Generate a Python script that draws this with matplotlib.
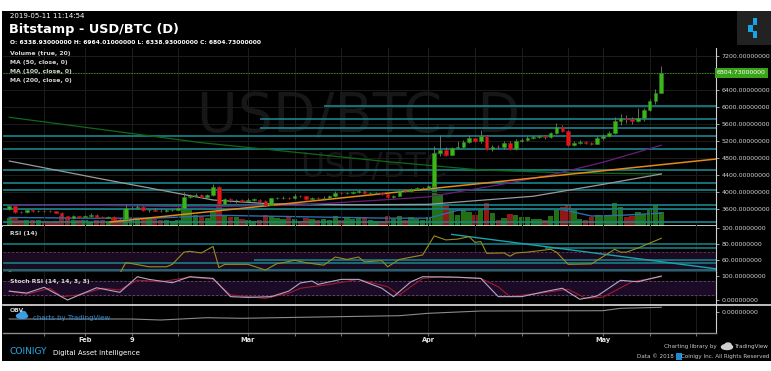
import numpy as np
import pandas as pd
import matplotlib
matplotlib.use('Agg')
import matplotlib.pyplot as plt
from matplotlib.patches import Rectangle, Ellipse
from matplotlib.lines import Line2D
from matplotlib.transforms import blended_transform_factory

W, H = 771, 371

# ---------------- data ----------------
dates = pd.date_range('2019-01-19', '2019-05-11', freq='D')

opens = [3595, 3660, 3530, 3525, 3565, 3545, 3560, 3550, 3545, 3515, 3435, 3385, 3425,
         3410, 3440, 3470, 3405, 3395, 3420, 3365, 3360, 3620, 3625, 3655, 3565, 3575, 3560,
         3550, 3565, 3580, 3615, 3875, 3915, 3935, 3890, 3930, 4110, 3720, 3830, 3800, 3805,
         3795, 3815, 3820, 3790, 3695, 3850, 3860, 3870, 3855, 3915, 3895, 3845, 3865, 3850,
         3870, 3905, 3985, 3970, 3980, 4005, 4025, 3965, 3975, 3985, 3955, 3890, 3910, 4025,
         4020, 4075, 4085,
         4094, 4141, 4910, 4988, 4880, 5028, 5060, 5169, 5264, 5200, 5318, 5012, 5055, 5050,
         5160, 5012, 5200, 5230, 5280, 5290, 5320, 5295, 5380, 5520, 5440, 5105, 5155, 5170,
         5150, 5140,
         5264, 5318, 5395, 5670, 5750, 5710, 5676, 5750, 5930, 6150, 6339]
highs = [3700, 3680, 3560, 3590, 3580, 3585, 3575, 3570, 3560, 3530, 3445, 3450, 3445,
         3470, 3500, 3480, 3425, 3440, 3425, 3390, 3700, 3660, 3690, 3660, 3600, 3620, 3590,
         3600, 3610, 3640, 4000, 3960, 3980, 3945, 3960, 4180, 4150, 3850, 3850, 3830, 3830,
         3850, 3850, 3830, 3800, 3870, 3890, 3900, 3890, 3950, 3930, 3900, 3890, 3890, 3910,
         3920, 4020, 4000, 4010, 4020, 4050, 4050, 4000, 4010, 4000, 3970, 3940, 4050, 4040,
         4100, 4110, 4120,
         4160, 5080, 5340, 5060, 5060, 5190, 5220, 5340, 5280, 5460, 5340, 5100, 5110, 5190,
         5190, 5240, 5260, 5320, 5330, 5350, 5340, 5400, 5630, 5580, 5460, 5210, 5230, 5200,
         5180, 5310,
         5360, 5430, 5770, 5830, 5800, 5760, 5970, 5970, 6190, 6430, 6964]
lows = [3575, 3510, 3500, 3510, 3520, 3530, 3535, 3525, 3495, 3420, 3370, 3375, 3390,
        3390, 3420, 3390, 3380, 3380, 3345, 3340, 3345, 3600, 3600, 3550, 3540, 3545, 3530,
        3540, 3555, 3570, 3600, 3850, 3880, 3875, 3870, 3900, 3700, 3710, 3760, 3750, 3760,
        3780, 3790, 3770, 3680, 3690, 3830, 3840, 3830, 3840, 3880, 3820, 3820, 3830, 3820,
        3860, 3890, 3950, 3950, 3960, 3980, 3950, 3950, 3960, 3940, 3870, 3860, 3900, 3990,
        4000, 4050, 4060,
        4080, 4120, 4840, 4850, 4860, 5000, 5040, 5150, 5170, 5160, 4990, 4960, 5010, 5020,
        4990, 4980, 5170, 5200, 5250, 5260, 5250, 5260, 5360, 5410, 5080, 5080, 5130, 5120,
        5110, 5120,
        5230, 5300, 5370, 5580, 5620, 5600, 5650, 5680, 5900, 6080, 6339]
closes = [3660, 3530, 3525, 3565, 3545, 3560, 3550, 3545, 3515, 3435, 3385, 3425, 3410,
          3440, 3470, 3405, 3395, 3420, 3365, 3360, 3620, 3625, 3655, 3565, 3575, 3560, 3550,
          3565, 3580, 3615, 3875, 3915, 3935, 3890, 3930, 4110, 3720, 3830, 3800, 3805, 3795,
          3815, 3820, 3790, 3695, 3850, 3860, 3870, 3855, 3915, 3895, 3845, 3865, 3850, 3870,
          3905, 3985, 3970, 3980, 4005, 4025, 3965, 3975, 3985, 3955, 3890, 3910, 4025, 4020,
          4075, 4085, 4094,
          4141, 4910, 4988, 4880, 5028, 5060, 5169, 5264, 5200, 5318, 5012, 5055, 5050, 5160,
          5012, 5200, 5230, 5280, 5290, 5320, 5295, 5380, 5520, 5440, 5105, 5155, 5170, 5150,
          5140, 5264,
          5318, 5395, 5670, 5750, 5710, 5676, 5750, 5930, 6150, 6336, 6805]
volumes = [11, 13, 8, 9, 8, 8, 7, 6, 7, 14, 12, 9, 8,
           8, 6, 9, 8, 7, 10, 9, 24, 9, 10, 11, 10, 10, 9, 8, 7, 9, 26, 22, 16, 14, 11, 19,
           30, 15, 12, 13, 10,
           9, 7, 8, 16, 14, 11, 10, 13, 10, 7, 11, 10, 9, 10, 9, 14, 8, 11, 10, 11, 13, 9, 7,
           7, 14, 10, 14, 9, 13, 10, 8,
           12, 60, 45, 30, 22, 16, 22, 20, 16, 24, 33, 18, 9, 11, 17, 15, 13, 12, 10, 10, 9,
           14, 22, 27, 29, 24, 10, 9, 13, 15,
           14, 16, 33, 26, 13, 14, 19, 17, 22, 29, 20]

volma_idx = [0, 13, 25, 36, 50, 65, 72, 77, 85, 95, 100, 105, 112]
volma_val = [12, 11, 11, 15, 13, 11, 11, 22, 24, 23, 14, 15, 18]

ma50_idx = [0, 15, 33, 50, 64, 72, 84, 93, 102, 112]
ma50_val = [3695, 3685, 3650, 3695, 3812, 3885, 4165, 4400, 4700, 5100]
ma100_idx = [0, 15, 35, 45, 60, 72, 90, 102, 112]
ma100_val = [4729, 4329, 3812, 3720, 3700, 3710, 3900, 4180, 4424]
ma200_idx = [0, 33, 65, 81, 95, 112]
ma200_val = [5758, 5160, 4713, 4518, 4454, 4424]

level_price = [6012, 5710, 5500, 5318, 5005, 4510, 4205, 4047, 3694, 3593, 3300]
level_start = [54, 43, 43, -2, -2, -2, -2, -2, -2, -2, -2]
trend_idx = [17.3, 121.4]
trend_val = [3294, 4776]
last_price = 6804.73

rsi_idx = [0, 2, 10, 19, 20, 21, 24, 27, 28, 30, 31, 33, 35, 36, 37, 41, 44, 46, 47, 49,
           51, 54, 56, 58, 60, 61, 64, 65, 67, 71, 73, 75, 77, 79, 80, 81, 82, 85, 86, 87,
           89, 93, 94, 96, 100, 101, 104, 105, 106, 108, 110, 112]
rsi_val = [46, 42, 35, 44, 57, 56, 52, 52, 55, 70, 71, 69, 77, 51, 55, 55, 48, 56, 57, 60,
           57, 54, 64, 61, 64, 58, 59.5, 52, 61, 66.5, 90, 85, 86, 89, 82, 83, 68.6, 69, 65, 69,
           70, 73.5, 70, 55, 55.5, 60, 73.5, 70, 70, 75, 81, 87]
rsi_lvl_val = [79.6, 74.5, 60.0, 56.3, 48.0]
rsi_lvl_start = [-2, 92, 42, -2, -2]
rsi_trend_idx = [76, 121.4]
rsi_trend_val = [91.8, 49.5]

stk_idx = [0, 3, 6, 10, 12, 15, 19, 22, 24, 28, 31, 35, 38, 41, 45, 48, 50, 52, 53, 57,
           60, 64, 66, 69, 71, 77, 81, 84, 88, 92, 95, 98, 101, 105, 108, 112]
stk_k = [37, 29, 53, 0, 21, 51, 32, 97, 86, 72, 97, 90, 14, 11, 14, 37, 71, 79, 65, 86,
         86, 49, 14, 76, 97, 95, 90, 14, 14, 35, 49, 3, 17, 82, 76, 100]
std_idx = [0, 3, 7, 9, 12, 16, 19, 22, 26, 31, 35, 38, 44, 48, 50, 55, 60, 65, 67, 71,
           74, 81, 84, 86, 91, 96, 99, 102, 107, 112]
std_d = [37, 25, 49, 14, 21, 49, 42, 83, 76, 95, 87, 21, 7, 28, 49, 65, 86, 55, 21, 90,
         97, 90, 55, 14, 28, 45, 7, 12, 76, 97]

obv_idx = [0, 21, 26, 34, 40, 50, 67, 72, 81, 102, 105, 112]
obv_val = [-70, -70, -80, -57, -63, -53, -37, -13, 10, 13, 37, 47]

grid_idx = [6, 13, 21, 29, 41, 49, 57, 65, 72, 80, 88, 96, 102, 110, 118]
label_idx = [13, 21, 41, 72, 102]
label_txt = ['Feb', '9', 'Mar', 'Apr', 'May']

# ---------------- figure ----------------
fig = plt.figure(figsize=(W / 100, H / 100), dpi=100, facecolor='white')


def frect(x0, y0, x1, y1):
    return [x0 / W, 1 - y1 / H, (x1 - x0) / W, (y1 - y0) / H]


def ftext(x, y, s, **kw):
    kw.setdefault('va', 'center')
    fig.text(x / W, 1 - y / H, s, **kw)


def fbox(x0, y0, x1, y1, **kw):
    fig.add_artist(Rectangle((x0 / W, 1 - y1 / H), (x1 - x0) / W, (y1 - y0) / H, **kw))


fbox(2, 11, 771, 361, facecolor='black', edgecolor='none', zorder=-10)

ax_vol = fig.add_axes(frect(3, 48, 716, 226))
ax = ax_vol.twinx()
ax_rsi = fig.add_axes(frect(3, 226, 716, 272), sharex=ax_vol)
ax_st = fig.add_axes(frect(3, 272, 716, 305), sharex=ax_vol)
ax_obv = fig.add_axes(frect(3, 305, 716, 333), sharex=ax_vol)

x = np.arange(len(dates))
o = np.array(opens, float)
c = np.array(closes, float)
up = c >= o
XMIN, XMAX = -1.08, 121.4

for a in (ax_vol, ax_rsi, ax_st, ax_obv):
    a.set_facecolor('black')
for a in (ax_vol, ax, ax_rsi, ax_st, ax_obv):
    a.set_xlim(XMIN, XMAX)
    for s in ('top', 'left'):
        a.spines[s].set_visible(False)
    a.spines['right'].set_color('#d0d0d0')
    a.spines['right'].set_linewidth(0.8)
    a.tick_params(axis='x', bottom=False, labelbottom=False)
    a.tick_params(axis='y', left=False, labelleft=False, right=True, labelright=True,
                  length=2.5, width=0.6, color='#bdbdbd', labelsize=4.5,
                  labelcolor='#d2d2d2', pad=1.5)
    for i in grid_idx:
        a.axvline(i, color='#1c1c1c', lw=0.7, zorder=0)

ax_vol.spines['right'].set_visible(False)
ax_vol.tick_params(axis='y', right=False, labelright=False)
ax_vol.spines['bottom'].set_color('#e6e6e6')
ax_vol.spines['bottom'].set_linewidth(1.2)
ax.spines['bottom'].set_visible(False)

# watermark
ax_vol.text(197 / W, 1 - 117 / H, 'USD/BTC, D', transform=fig.transFigure, fontsize=40,
            color='#171717', va='center', ha='left', zorder=0)
ax_vol.text(300 / W, 1 - 168 / H, 'USD/BTC', transform=fig.transFigure, fontsize=24,
            color='#161616', va='center', ha='left', zorder=0)

# volume
ax_vol.set_ylim(0, 250)
ax_vol.set_yticks([])
ax_vol.bar(x, volumes, width=0.92, color=np.where(up, '#226f14', '#921818'), zorder=2)
ax_vol.plot(volma_idx, volma_val, color='#2a6db0', lw=1.0, zorder=3)

# price
ax.set_ylim(3200, 7388)
for lv in range(3600, 7201, 400):
    ax.axhline(lv, color='#1c1c1c', lw=0.7, zorder=0)
ax.hlines(level_price, level_start, XMAX, color='#18868d', lw=1.2, zorder=2)
ax.axhline(last_price, color='#2f8a18', lw=0.8, ls=(0, (1.2, 1.2)), zorder=2)
ax.plot(ma200_idx, ma200_val, color='#0e6a18', lw=0.9, zorder=3)
ax.plot(ma100_idx, ma100_val, color='#9a9a9a', lw=0.9, zorder=3)
ax.plot(ma50_idx, ma50_val, color='#6c1c7c', lw=0.9, zorder=3)
ax.plot(trend_idx, trend_val, color='#e48a18', lw=1.1, zorder=3)
ax.vlines(x, lows, highs, color='#7a7a7a', lw=0.6, zorder=4)
body = np.maximum(np.abs(c - o), 10)
ax.bar(x, body, bottom=np.minimum(o, c), width=0.62,
       color=np.where(up, '#3bb51b', '#e3161c'),
       edgecolor=np.where(up, '#2a8a14', '#b01015'), linewidth=0.4, zorder=5)
ptick = [3600, 4000, 4400, 4800, 5200, 5600, 6000, 6400, 7200]
ax.set_yticks(ptick)
ax.set_yticklabels([f'{v:.8f}' for v in ptick])
ax.text(1.0015, last_price, f'{last_price:.8f}', fontsize=4.5, color='white',
        transform=blended_transform_factory(ax.transAxes, ax.transData),
        va='center', ha='left', clip_on=False, zorder=6,
        bbox=dict(facecolor='#3aa31a', edgecolor='none', pad=1.6))

# RSI
ax_rsi.set_ylim(45.6, 102.1)
ax_rsi.axhspan(30, 70, color='#1a0b21', zorder=0)
ax_rsi.axhline(70, color='#5e3a60', lw=0.6, ls=(0, (3, 2)), zorder=1)
ax_rsi.hlines(rsi_lvl_val, rsi_lvl_start, XMAX, color='#17868d', lw=1.1, zorder=2)
ax_rsi.plot(rsi_trend_idx, rsi_trend_val, color='#1aa3ad', lw=1.0, zorder=2)
ax_rsi.plot(rsi_idx, rsi_val, color='#9c8c1c', lw=0.8, zorder=3)
ax_rsi.set_yticks([100, 80, 60])
ax_rsi.set_yticklabels([f'{v:.8f}' for v in (100, 80, 60)])
ax_rsi.spines['bottom'].set_color('#9a9a9a')
ax_rsi.spines['bottom'].set_linewidth(1.0)

# Stoch RSI
ax_st.set_ylim(-20.8, 116.7)
ax_st.axhspan(20, 80, color='#1c0b27', zorder=0)
for lv in (20, 80):
    ax_st.axhline(lv, color='#6a4a6c', lw=0.6, ls=(0, (3, 2)), zorder=1)
ax_st.plot(std_idx, std_d, color='#a01a30', lw=0.8, zorder=3)
ax_st.plot(stk_idx, stk_k, color='#b4a6c6', lw=0.8, zorder=4)
ax_st.set_yticks([100, 0])
ax_st.set_yticklabels([f'{v:.8f}' for v in (100, 0)])
ax_st.spines['bottom'].set_visible(False)

# OBV
ax_obv.set_ylim(-210, 70)
ax_obv.plot(obv_idx, obv_val, color='#8a8a8a', lw=0.8, zorder=3)
ax_obv.set_yticks([0])
ax_obv.set_yticklabels([f'{0:.8f}'])
ax_obv.spines['bottom'].set_color('#8a8a8a')
ax_obv.spines['bottom'].set_linewidth(1.0)
ax_obv.set_xticks(label_idx)
ax_obv.set_xticklabels(label_txt)
ax_obv.set_xticks([i for i in grid_idx if i not in label_idx], minor=True)
ax_obv.tick_params(axis='x', which='both', bottom=True, labelbottom=True, length=2.5,
                   width=0.6, color='#8a8a8a', labelsize=4.8, labelcolor='#e6e6e6', pad=0.5)
for t in ax_obv.get_xticklabels():
    t.set_fontweight('bold')

fig.add_artist(Line2D([3 / W, 1], [1 - 305 / H] * 2, color='#e0e0e0', lw=1.2))

# ---------------- texts ----------------
ftext(10, 15.5, '2019-05-11 11:14:54', fontsize=5, color='white')
ftext(9, 30, 'Bitstamp - USD/BTC (D)', fontsize=9.3, fontweight='bold', color='white')
ftext(10, 43, 'O: 6338.93000000 H: 6964.01000000 L: 6338.93000000 C: 6804.73000000',
      fontsize=4.3, fontweight='bold', color='white')
for yy, s in zip([54, 62.5, 71.5, 80.5],
                 ['Volume (true, 20)', 'MA (50, close, 0)', 'MA (100, close, 0)',
                  'MA (200, close, 0)']):
    ftext(10, yy, s, fontsize=4.4, fontweight='bold', color='#d6d6d6')
ftext(10, 233.5, 'RSI (14)', fontsize=4.4, fontweight='bold', color='#d6d6d6')
ftext(10, 281, 'Stoch RSI (14, 14, 3, 3)', fontsize=4.4, fontweight='bold', color='#d6d6d6')
ftext(10, 311, 'OBV', fontsize=4.4, fontweight='bold', color='#d6d6d6')

# charts by TradingView (logo + text)
fig.add_artist(Ellipse((22 / W, 1 - 316 / H), 11 / W, 5 / H, color='#3a9ee2'))
fig.add_artist(Ellipse((23 / W, 1 - 313.5 / H), 6 / W, 4 / H, color='#3a9ee2'))
ftext(33, 318, 'charts by TradingView', fontsize=5, color='#2e8fd8')

ftext(9, 352, 'COINIGY', fontsize=6.6, color='#26a8e0')
ftext(53, 352.5, 'Digital Asset Intelligence', fontsize=5, color='white')

ftext(717, 346.5, 'Charting library by', fontsize=4.1, color='#c8c8c8', ha='right')
fig.add_artist(Ellipse((727 / W, 1 - 347 / H), 11 / W, 5 / H, color='#d0d0d0'))
fig.add_artist(Ellipse((728 / W, 1 - 345 / H), 6 / W, 4 / H, color='#d0d0d0'))
ftext(769, 346.5, 'TradingView', fontsize=4.1, color='#c8c8c8', ha='right')
ftext(674, 356.5, 'Data \u00a9 2018', fontsize=4.1, color='#c8c8c8', ha='right')
fbox(675.5, 353, 682, 360, facecolor='#1e8ad0', edgecolor='none')
ftext(769, 356.5, 'Coinigy Inc. All Rights Reserved', fontsize=4.1, color='#c8c8c8',
      ha='right')

# top-right logo
fbox(737, 11, 771, 45, facecolor='#222222', edgecolor='none')
for (x0, y0) in [(752.5, 18), (748, 25), (752.5, 31.5)]:
    fbox(x0, y0, x0 + 4.8, y0 + 6.5, facecolor='#17a3e8', edgecolor='none')

fig.savefig('out.png', dpi=100, facecolor='white')
